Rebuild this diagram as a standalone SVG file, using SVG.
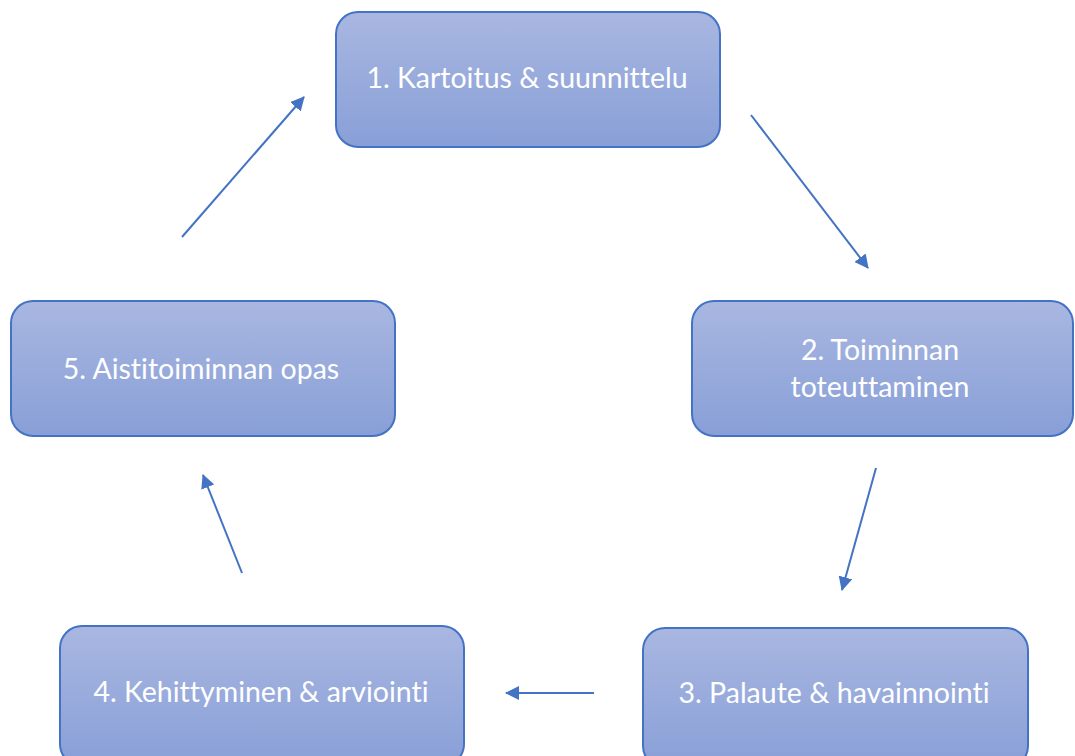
<svg xmlns="http://www.w3.org/2000/svg" width="1075" height="756" viewBox="0 0 1075 756">
<defs>
<linearGradient id="g" x1="0" y1="0" x2="0" y2="1">
<stop offset="0" stop-color="#a9b7e1"/>
<stop offset="1" stop-color="#889fd7"/>
</linearGradient>
<marker id="ah2" markerWidth="14" markerHeight="14" refX="13" refY="7" orient="auto" markerUnits="userSpaceOnUse" viewBox="0 0 14 14">
<path d="M0,0 L14,7 L0,14 Z" fill="#4472c4"/>
</marker>
</defs>
<style>
.box{fill:url(#g);stroke:#4472c4;stroke-width:2}
.t{font-family:Lato,"Open Sans",sans-serif;font-size:28.5px;fill:#ffffff;text-anchor:middle;font-variant-ligatures:none}
.c{stroke:#4472c4;stroke-width:2;fill:none;marker-end:url(#ah2)}
</style>
<rect width="1075" height="756" fill="#ffffff"/>
<g id="n1"><rect class="box" x="336" y="12" width="384" height="135" rx="22"/><text class="t" x="527" y="88">1. Kartoitus &amp; suunnittelu</text></g>
<g id="n2"><rect class="box" x="692" y="301" width="381" height="135" rx="22"/><text class="t" x="880" y="360">2. Toiminnan</text><text class="t" x="880" y="397">toteuttaminen</text></g>
<g id="n3"><rect class="box" x="643" y="628" width="385" height="140" rx="22"/><text class="t" x="834" y="703">3. Palaute &amp; havainnointi</text></g>
<g id="n4"><rect class="box" x="60" y="626" width="404" height="140" rx="22"/><text class="t" x="261" y="702">4. Kehittyminen &amp; arviointi</text></g>
<g id="n5"><rect class="box" x="11" y="301" width="384" height="135" rx="22"/><text class="t" x="201" y="379">5. Aistitoiminnan opas</text></g>
<g id="connectors">
<line class="c" x1="751" y1="115" x2="868" y2="268"/>
<line class="c" x1="876" y1="468" x2="842" y2="590"/>
<line class="c" x1="594" y1="693" x2="506" y2="693"/>
<line class="c" x1="242" y1="573" x2="203" y2="475"/>
<line class="c" x1="182" y1="237" x2="304" y2="97"/>
</g>
</svg>
